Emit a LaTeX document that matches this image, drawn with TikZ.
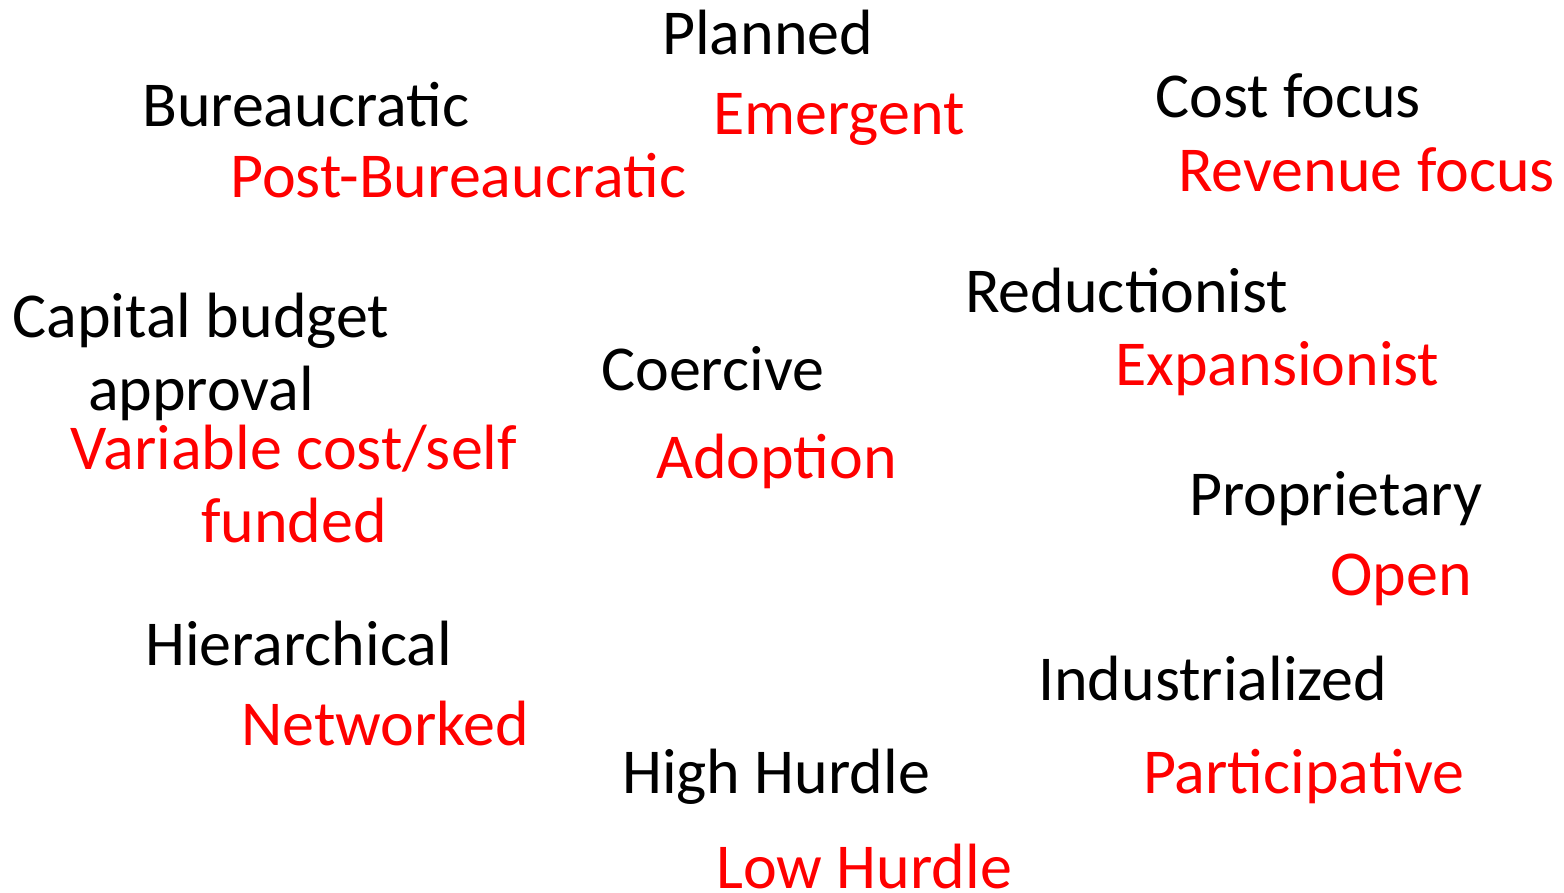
\documentclass[tikz,border=0pt]{standalone}
\usepackage{fontspec}
\setmainfont{Carlito}
\definecolor{redtxt}{RGB}{255,0,0}
\tikzset{
  lbl/.style={anchor=base west, inner sep=0pt, font=\fontsize{64}{73}\selectfont},
  blk/.style={lbl, text=black},
  rd/.style={lbl, text=redtxt},
}
\begin{document}
\begin{tikzpicture}[x=1pt,y=1pt]
\useasboundingbox (0,0) rectangle (1564,-893);
\node[blk] (planned) at (662,-55) {Planned};
\node[blk] (bureau) at (142,-127) {Bureaucratic};
\node[rd] (emergent) at (713,-135) {Emergent};
\node[blk] (cost) at (1155,-118) {Cost focus};
\node[rd] (postb) at (230,-198) {Post-Bureaucratic};
\node[rd] (revenue) at (1178,-192) {Revenue focus};
\node[blk] (reduct) at (965,-313) {Reductionist};
\node[blk, anchor=base, align=center] (capital) at (201,-410) {Capital budget\\approval};
\node[blk] (coercive) at (601,-390) {Coercive};
\node[rd] (expans) at (1115,-385) {Expansionist};
\node[rd, anchor=base, align=center] (variable) at (294,-542) {Variable cost/self\\funded};
\node[rd] (adoption) at (656,-478) {Adoption};
\node[blk] (propr) at (1189,-515) {Proprietary};
\node[rd] (open) at (1330,-595) {Open};
\node[blk] (hier) at (145,-665) {Hierarchical};
\node[blk] (indus) at (1038,-700) {Industrialized};
\node[rd] (networked) at (241,-745) {Networked};
\node[blk] (high) at (622,-793) {High Hurdle};
\node[rd] (partic) at (1143,-793) {Participative};
\node[rd] (low) at (716,-888) {Low Hurdle};
\end{tikzpicture}
\end{document}
